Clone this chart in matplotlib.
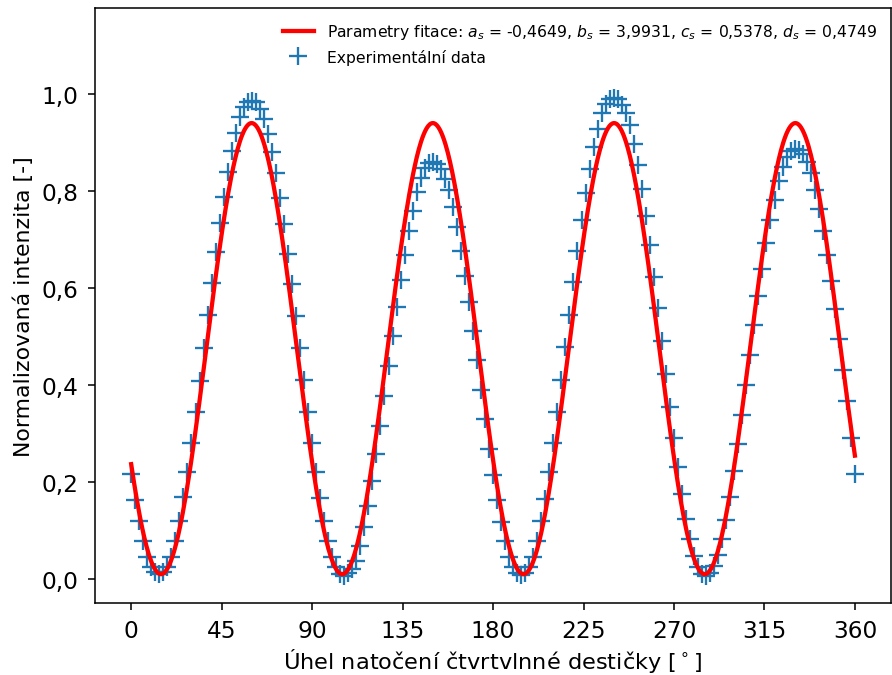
import numpy as np
import matplotlib
matplotlib.use('Agg')
import matplotlib.pyplot as plt
from matplotlib.ticker import FuncFormatter, MultipleLocator

# measured angles of the quarter-wave plate [deg]
uhel = np.arange(0, 361, 2)

# normalized intensity for each angle
intenzita = [
    0.216, 0.163, 0.119, 0.079, 0.046, 0.024, 0.014, 0.010, 0.014, 0.025,   # 0-18
    0.046, 0.079, 0.120, 0.168, 0.220, 0.280, 0.344, 0.409, 0.476, 0.545,   # 20-38
    0.610, 0.674, 0.733, 0.788, 0.839, 0.883, 0.919, 0.952, 0.973, 0.983,   # 40-58
    0.986, 0.983, 0.969, 0.948, 0.918, 0.880, 0.836, 0.786, 0.731, 0.670,   # 60-78
    0.608, 0.543, 0.476, 0.410, 0.344, 0.281, 0.221, 0.167, 0.120, 0.079,   # 80-98
    0.046, 0.024, 0.010, 0.007, 0.012, 0.020, 0.038, 0.069, 0.107, 0.151,   # 100-118
    0.203, 0.258, 0.316, 0.377, 0.440, 0.500, 0.561, 0.617, 0.668, 0.718,   # 120-138
    0.759, 0.797, 0.827, 0.847, 0.857, 0.859, 0.856, 0.845, 0.825, 0.801,   # 140-158
    0.766, 0.725, 0.677, 0.625, 0.570, 0.512, 0.451, 0.390, 0.330, 0.268,   # 160-178
    0.215, 0.162, 0.117, 0.078, 0.046, 0.024, 0.012, 0.009, 0.012, 0.024,   # 180-198
    0.046, 0.079, 0.119, 0.165, 0.220, 0.280, 0.344, 0.410, 0.478, 0.545,   # 200-218
    0.612, 0.677, 0.739, 0.795, 0.845, 0.890, 0.928, 0.960, 0.979, 0.990,   # 220-238
    0.992, 0.990, 0.978, 0.960, 0.935, 0.897, 0.854, 0.804, 0.749, 0.689,   # 240-258
    0.623, 0.559, 0.490, 0.423, 0.355, 0.291, 0.230, 0.175, 0.124, 0.082,   # 260-278
    0.048, 0.024, 0.010, 0.006, 0.012, 0.026, 0.050, 0.082, 0.122, 0.170,   # 280-298
    0.222, 0.278, 0.338, 0.400, 0.462, 0.524, 0.584, 0.640, 0.692, 0.740,   # 300-318
    0.782, 0.820, 0.850, 0.870, 0.882, 0.887, 0.885, 0.876, 0.860, 0.836,   # 320-338
    0.802, 0.762, 0.718, 0.668, 0.614, 0.556, 0.494, 0.430, 0.366, 0.290,   # 340-358
    0.216,                                                                  # 360
]

# fit parameters  I = a*sin(b*x + c) + d, x in rad
a_s, b_s, c_s, d_s = -0.4649, 3.9931, 0.5378, 0.4749


def fit(x_deg):
    return a_s * np.sin(b_s * np.radians(x_deg) + c_s) + d_s


def carka(v, pos):
    return ('%.1f' % v).replace('.', ',')


def cislo(v):
    return ('%.4f' % v).replace('.', ',')


fig = plt.figure(figsize=(6.4, 4.85), dpi=139.375)
ax = fig.add_axes([0.1065, 0.1065, 0.8925, 0.8802])

x_fit = np.linspace(0, 360, 1000)
popis = ('Parametry fitace: $a_s$ = ' + cislo(a_s) + ', $b_s$ = ' + cislo(b_s)
         + ', $c_s$ = ' + cislo(c_s) + ', $d_s$ = ' + cislo(d_s))
ax.plot(x_fit, fit(x_fit), color='red', lw=2.2, label=popis, zorder=3)
ax.plot(uhel, intenzita, '+', color='#1f77b4', markersize=9, mew=1.2,
        label='Experimentální data', zorder=2)

ax.set_xlim(-18, 378)
ax.set_ylim(-0.0495, 1.177)
ax.xaxis.set_major_locator(MultipleLocator(45))
ax.yaxis.set_major_locator(MultipleLocator(0.2))
ax.yaxis.set_major_formatter(FuncFormatter(carka))
ax.tick_params(labelsize=12, pad=5)

ax.set_xlabel('Úhel natočení čtvrtvlnné destičky [$^\\circ$]', fontsize=11.6, labelpad=2)
ax.set_ylabel('Normalizovaná intenzita [-]', fontsize=11.4)
ax.legend(loc='upper right', frameon=False, fontsize=8.1)

fig.savefig('out.png', dpi=139.375)
